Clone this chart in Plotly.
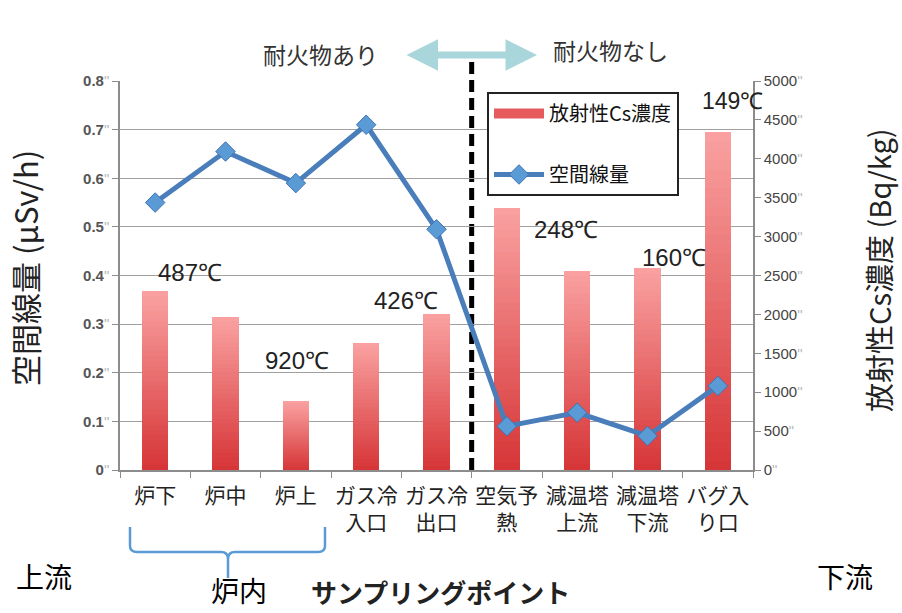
import plotly.graph_objects as go

# Sampling points along the flue-gas path
categories = ["炉下", "炉中", "炉上", "ガス冷<br>入口", "ガス冷<br>出口",
              "空気予<br>熱", "減温塔<br>上流", "減温塔<br>下流", "バグ入<br>り口"]
# Radioactive Cs concentration (Bq/kg) -> bars, right axis
cs_conc = [2300, 1965, 890, 1630, 2005, 3365, 2560, 2595, 4345]
# Air dose rate (μSv/h) -> line, left axis
dose_rate = [0.55, 0.655, 0.59, 0.71, 0.495, 0.09, 0.118, 0.07, 0.173]
# Gas temperatures written next to some of the points
temp_labels = ["487℃", "920℃", "426℃", "248℃", "160℃", "149℃"]
left_ticks = [0, 0.1, 0.2, 0.3, 0.4, 0.5, 0.6, 0.7, 0.8]
right_ticks = [0, 500, 1000, 1500, 2000, 2500, 3000, 3500, 4000, 4500, 5000]

W, H = 902, 613
L, R, T, B = 120, 753, 81, 470          # plot area in pixels


def px(x):
    return (x - L) / (R - L)


def py(y):
    return (B - y) / (B - T)


JP = "Noto Sans CJK JP"
NUM = "Liberation Sans"
QUOTE = '<span style="color:#b8b8b8">"</span>'


def label(x, y, text, size, color="#222", family=JP, angle=0):
    return dict(x=px(x), y=py(y), xref="paper", yref="paper", text=text,
                xanchor="center", yanchor="middle", textangle=angle,
                showarrow=False, font=dict(family=family, size=size, color=color))


fig = go.Figure()

# Bars with a vertical red gradient, built as thin stacked slices of each value
N = 36
c_bot = (214, 52, 54)
c_top = (250, 162, 162)
for k in range(N):
    t = (k + 0.5) / N
    col = "rgb({},{},{})".format(*[round(a + (b - a) * t) for a, b in zip(c_bot, c_top)])
    fig.add_trace(go.Bar(
        x=categories, y=[v / N for v in cs_conc], yaxis="y",
        marker=dict(color=col, line=dict(width=0)),
        showlegend=False, hoverinfo="skip",
    ))

# Legend swatch for the bar series
fig.add_trace(go.Scatter(
    x=[None], y=[None], yaxis="y", mode="lines", name="放射性Cs濃度",
    line=dict(color="#E65A5C", width=14), legendgroup="cs",
))

# Air dose rate line
fig.add_trace(go.Scatter(
    x=categories, y=dose_rate, yaxis="y2", mode="lines+markers", name="空間線量",
    line=dict(color="#4A7EBB", width=5),
    marker=dict(symbol="diamond", size=15, color="#5B9BD5",
                line=dict(color="#3F73B5", width=1)),
    legendgroup="dose",
))

annotations = []

# Temperature labels
temp_pos = [(190, 272), (297, 360), (406, 300), (566, 229), (674, 257), (732, 101)]
temp_size = [24, 24, 24, 24, 24, 23]
for txt, (x, y), s in zip(temp_labels, temp_pos, temp_size):
    annotations.append(label(x, y, txt, s, "#222", NUM))

# Refractory / no refractory headings with a double arrow
annotations += [
    label(320, 54, "耐火物あり", 23, "#333"),
    label(610, 50, "耐火物なし", 23, "#333"),
    dict(x=px(537), y=py(55), xref="paper", yref="paper", text="",
         showarrow=True, ax=-132, ay=0, axref="pixel", ayref="pixel",
         arrowside="end+start", arrowhead=2, arrowsize=0.9, arrowwidth=7,
         arrowcolor="#A9D6DA", standoff=0, startstandoff=0),
]

# Axis titles and flow-direction notes
annotations += [
    label(24, 268, "空間線量 (μSv/h)", 31, "#222", angle=-90),
    label(878, 270, "放射性Cs濃度 (Bq/kg)", 29, "#222", angle=-90),
    label(440, 591, "<b>サンプリングポイント</b>", 26, "#222"),
    label(239, 590, "炉内", 28, "#000"),
    label(44, 576, "上流", 28, "#000"),
    label(845, 576, "下流", 28, "#000"),
]


# Bracket under the three furnace points
def P(x, y):
    return f"{px(x):.5f},{py(y):.5f}"


bracket = (
    f"M{P(130,527)} L{P(130,546)} Q{P(130,552)} {P(137,552)} L{P(221,552)} "
    f"Q{P(228,552)} {P(228,559)} L{P(228,578)} "
    f"M{P(228,559)} Q{P(228,552)} {P(235,552)} L{P(318,552)} "
    f"Q{P(325,552)} {P(325,546)} L{P(325,527)}"
)

shapes = [
    dict(type="path", path=bracket, xref="paper", yref="paper",
         line=dict(color="#5B9BD5", width=2.5)),
    dict(type="line", xref="x", yref="paper", x0=4.5, x1=4.5, y0=0, y1=py(60),
         line=dict(color="#000", width=5, dash="12px,6px"), layer="between"),
]

fig.update_layout(
    width=W, height=H,
    margin=dict(l=L, r=W - R, t=T, b=H - B, pad=0),
    paper_bgcolor="white", plot_bgcolor="white",
    barmode="stack", bargap=0.63,
    showlegend=True,
    legend=dict(x=px(487), y=py(92), xanchor="left", yanchor="top",
                bgcolor="white", bordercolor="#222", borderwidth=2,
                font=dict(family=JP, size=20, color="#111"),
                itemwidth=50, tracegroupgap=32, traceorder="grouped"),
    xaxis=dict(type="category", range=[-0.5, 8.5], showgrid=False,
               showline=True, linecolor="#8c8c8c", linewidth=1.5,
               ticks="outside", tickson="boundaries", ticklen=6, tickcolor="#8c8c8c",
               tickangle=0, ticklabelstandoff=6,
               tickfont=dict(family=JP, size=21, color="#222")),
    yaxis=dict(side="right", range=[0, 5000], showgrid=False, zeroline=False,
               tickvals=right_ticks, ticktext=[f"{v}{QUOTE}" for v in right_ticks],
               showline=True, linecolor="#8c8c8c", linewidth=1.5,
               ticks="outside", ticklen=6, tickcolor="#8c8c8c",
               tickfont=dict(family=NUM, size=15, color="#444")),
    yaxis2=dict(overlaying="y", side="left", range=[0, 0.8], zeroline=False,
                showgrid=True, gridcolor="#a0a0a0", gridwidth=1,
                tickvals=left_ticks, ticktext=[f"<b>{v:g}</b>{QUOTE}" for v in left_ticks],
                showline=True, linecolor="#8c8c8c", linewidth=1.5,
                ticks="outside", ticklen=6, tickcolor="#8c8c8c",
                tickfont=dict(family=NUM, size=15, color="#555")),
    annotations=annotations,
    shapes=shapes,
)

fig.write_html("out.html")
